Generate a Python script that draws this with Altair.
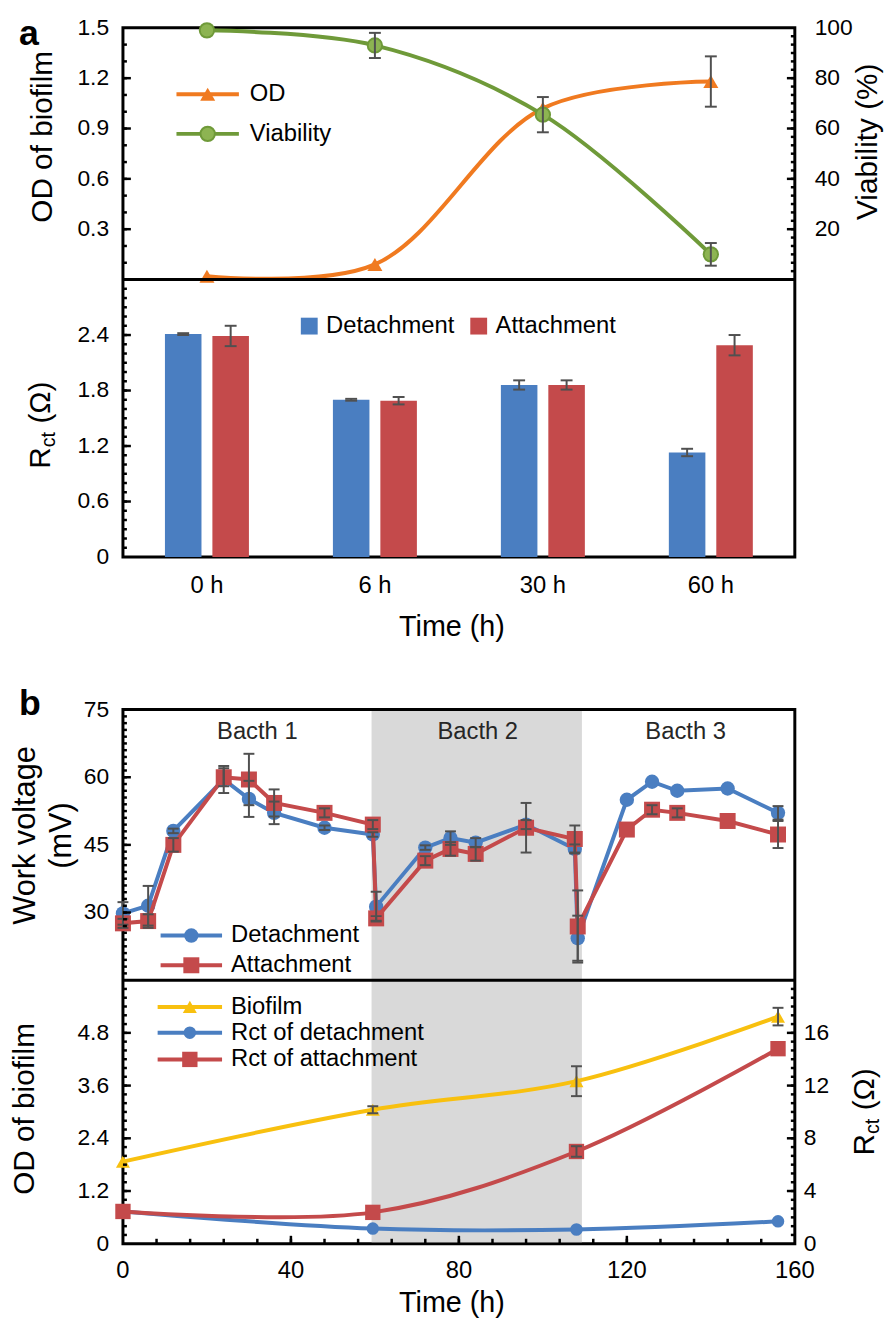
import altair as alt
import pandas as pd

# ---------------- panel a data ----------------
STAGES = ["0 h", "6 h", "30 h", "60 h"]
OD_A = [0.02, 0.09, 1.02, 1.18]
OD_A_ERR = [0.0, 0.0, 0.0, 0.15]
VIAB = [99.0, 93.0, 65.5, 10.0]
VIAB_ERR = [0.0, 5.0, 7.0, 4.5]
A_LINES = ["OD", "Viability"]
OD_A_TICKS = [0.3, 0.6, 0.9, 1.2, 1.5]
OD_A_LABELS = ["0.3", "0.6", "0.9", "1.2", "1.5"]
VIAB_TICKS = [20, 40, 60, 80, 100]
VIAB_LABELS = ["20", "40", "60", "80", "100"]

A_SERIES = ["Detachment", "Attachment"]
RCT_DET = [2.41, 1.70, 1.86, 1.13]
RCT_DET_ERR = [0.01, 0.01, 0.05, 0.04]
RCT_ATT = [2.39, 1.69, 1.86, 2.29]
RCT_ATT_ERR = [0.11, 0.04, 0.05, 0.11]
RCT_A_TICKS = [0, 0.6, 1.2, 1.8, 2.4]
RCT_A_LABELS = ["0", "0.6", "1.2", "1.8", "2.4"]

# ---------------- panel b data ----------------
V_SERIES = ["Detachment", "Attachment"]
T_V = [0, 6, 12, 24, 30, 36, 48, 59.5, 60.3, 72, 78, 84, 96, 107.6, 108.3, 120, 126, 132, 144, 156]
V_DET = [29.8, 31.5, 48.1, 59.5, 55.2, 52.1, 48.8, 47.3, 31.3, 44.4, 46.5, 45.5, 49.5, 44.1, 24.3,
         55.0, 59.0, 57.0, 57.5, 52.1]
V_DET_ERR = [2.5, 4.4, 0.5, 3.0, 4.0, 2.5, 0.5, 0.5, 3.3, 0.5, 1.5, 1.0, 1.0, 1.0, 5.0,
             0.0, 0.0, 0.0, 0.0, 1.5]
V_ATT = [27.6, 28.1, 45.0, 60.0, 59.5, 54.3, 52.1, 49.5, 28.7, 41.5, 44.1, 43.0, 48.8, 46.3, 26.9,
         48.4, 52.8, 52.1, 50.3, 47.3]
V_ATT_ERR = [1.0, 1.5, 1.5, 2.0, 5.7, 3.0, 1.0, 1.0, 0.5, 1.0, 1.5, 1.5, 5.5, 3.0, 8.0,
             0.0, 1.0, 1.0, 0.0, 3.0]
V_TICKS = [30, 45, 60, 75]
V_LABELS = ["30", "45", "60", "75"]
BATCHES = ["Bacth 1", "Bacth 2", "Bacth 3"]
BATCH_T = [32, 84.5, 134]
BATCH2_SPAN = [59.2, 109.3]

B_LEGEND = ["Biofilm", "Rct of detachment", "Rct of attachment"]
T_B = [0, 59.5, 108, 156]
OD_B = [1.87, 3.05, 3.70, 5.17]
OD_B_ERR = [0.0, 0.08, 0.34, 0.2]
RCT_DET_B = [2.45, 1.15, 1.08, 1.70]
RCT_ATT_B = [2.45, 2.38, 7.0, 14.8]
RCT_ATT_B_ERR = [0.0, 0.0, 0.4, 0.0]
OD_B_TICKS = [0, 1.2, 2.4, 3.6, 4.8]
OD_B_LABELS = ["0", "1.2", "2.4", "3.6", "4.8"]
RCT_B_TICKS = [0, 4, 8, 12, 16]
RCT_B_LABELS = ["0", "4", "8", "12", "16"]
TIME_TICKS = [0, 40, 80, 120, 160]
TIME_LABELS = ["0", "40", "80", "120", "160"]

# ---------------- style ----------------
FONT = "Liberation Sans"
W = 678
H_A1, H_A = 254, 534          # top sub-panel height, whole panel a height
H_B1, H_B = 273, 539          # top sub-panel height, whole panel b height
OVERHANG = 114
ORANGE = "#F07A20"
GREEN = "#6F9A39"
GREEN_FILL = "#8DB452"
BLUE = "#4A7EC1"
RED = "#C44A4B"
YELLOW = "#F8C00F"
ERR = "#505050"
SHADE = "#D9D9D9"


def one(s):
    return alt.Chart(pd.DataFrame({"s": [s]}))


def txt(s, x, y, size, angle=0, align="center", baseline="middle", weight="normal", color="black"):
    mk = dict(align=align, baseline=baseline, font=FONT, fontSize=size, fontWeight=weight, color=color)
    if angle:
        mk["angle"] = angle
    return one(s).mark_text(**mk).encode(text="s:N", x=alt.value(x), y=alt.value(y))


def spacer(x, y):
    return one("").mark_rule(opacity=0).encode(
        x=alt.value(x), x2=alt.value(x + 1), y=alt.value(y), y2=alt.value(y + 1))


def divider(y):
    return one("").mark_rule(color="black", strokeWidth=3).encode(
        x=alt.value(0), x2=alt.value(W), y=alt.value(y))


def rct_title(xb, y0):
    parts = [("R", 30, 0.0, 0.0), ("ct", 20, 21.7, 5.0), ("(\u03a9)", 30, 45.6, 0.0)]
    return [one(s).mark_text(angle=270, align="left", baseline="alphabetic", font=FONT,
                              fontSize=fs, color="black").encode(
        text="s:N", x=alt.value(xb + sub), y=alt.value(y0 - adv)) for s, fs, adv, sub in parts]


def xq(f, sc):
    return alt.X(f"{f}:Q", scale=sc, axis=None)


def yq(f, sc):
    return alt.Y(f"{f}:Q", scale=sc, axis=None)


def yticks(vals, sc, side, length):
    d = pd.DataFrame({"v": vals})
    xs = dict(x=alt.value(0), x2=alt.value(length)) if side == "left" else \
        dict(x=alt.value(W), x2=alt.value(W - length))
    return alt.Chart(d).mark_rule(color="black", strokeWidth=2.5).encode(y=yq("v", sc), **xs)


def xticks(vals, sc, h, length):
    d = pd.DataFrame({"v": vals})
    return alt.Chart(d).mark_rule(color="black", strokeWidth=2.5).encode(
        x=xq("v", sc), y=alt.value(h), y2=alt.value(h - length))


def ylabels(vals, labels, sc, side, pad, size=23):
    d = pd.DataFrame({"v": vals, "lab": labels})
    if side == "left":
        mk, xv = dict(align="right"), alt.value(-pad)
    else:
        mk, xv = dict(align="left"), alt.value(W + pad)
    return alt.Chart(d).mark_text(baseline="middle", font=FONT, fontSize=size, color="black", **mk).encode(
        y=yq("v", sc), x=xv, text="lab:N")


def xlabels(vals, labels, sc, y, size=24):
    d = pd.DataFrame({"v": vals, "lab": labels})
    return alt.Chart(d).mark_text(baseline="top", align="center", font=FONT, fontSize=size,
                                  color="black").encode(x=xq("v", sc), y=alt.value(y), text="lab:N")


def errbars(base, x, xsc, lo, hi, ysc, errf, cap=12):
    b = base.transform_filter(f"datum.{errf} > 0")
    rule = b.mark_rule(color=ERR, strokeWidth=2).encode(x=xq(x, xsc), y=yq(lo, ysc), y2=f"{hi}:Q")
    caps = [b.mark_tick(orient="horizontal", size=cap, thickness=2, color=ERR, opacity=1).encode(
        x=xq(x, xsc), y=yq(f, ysc)) for f in (lo, hi)]
    return [rule] + caps


def legend_line(label, color, shape, y, x0, x1, tx, size, fill=None):
    pk = dict(shape=shape, filled=True, size=size, opacity=1, color=color)
    if fill:
        pk["fill"] = fill
        pk["stroke"] = color
        pk["strokeWidth"] = 2
    return [
        one(label).mark_rule(color=color, strokeWidth=4).encode(
            x=alt.value(x0), x2=alt.value(x1), y=alt.value(y)),
        one(label).mark_point(**pk).encode(x=alt.value((x0 + x1) / 2), y=alt.value(y)),
        one(label).mark_text(align="left", baseline="middle", font=FONT, fontSize=24,
                             color="black").encode(text="s:N", x=alt.value(tx), y=alt.value(y)),
    ]


# ================= panel a =================
dfA = pd.DataFrame({"i": list(range(len(STAGES))), "od": OD_A, "od_err": OD_A_ERR,
                    "v": VIAB, "v_err": VIAB_ERR})
dfA["od_lo"] = dfA["od"] - dfA["od_err"]
dfA["od_hi"] = dfA["od"] + dfA["od_err"]
dfA["v_lo"] = dfA["v"] - dfA["v_err"]
dfA["v_hi"] = dfA["v"] + dfA["v_err"]
bA = alt.Chart(dfA)
xA = alt.Scale(domain=[-0.5, len(STAGES) - 0.5])
od_sc = alt.Scale(domain=[0, 1.5], range=[H_A1, 0])
vi_sc = alt.Scale(domain=[0, 100], range=[H_A1, 0])
r_sc = alt.Scale(domain=[0, 3], range=[H_A, H_A1])

od_group = alt.layer(
    bA.mark_line(color=ORANGE, strokeWidth=4, interpolate="catmull-rom").encode(
        x=xq("i", xA), y=yq("od", od_sc)),
    bA.mark_point(shape="triangle-up", filled=True, size=230, color=ORANGE, opacity=1).encode(
        x=xq("i", xA), y=yq("od", od_sc)),
    *errbars(bA, "i", xA, "od_lo", "od_hi", od_sc, "od_err"),
    yticks([0.3, 0.6, 0.9, 1.2], od_sc, "left", 8),
    yticks([round(k * 0.1, 3) for k in range(1, 15)], od_sc, "left", 4),
    ylabels(OD_A_TICKS, OD_A_LABELS, od_sc, "left", 14),
)
vi_group = alt.layer(
    bA.mark_line(color=GREEN, strokeWidth=4, interpolate="catmull-rom").encode(
        x=xq("i", xA), y=yq("v", vi_sc)),
    bA.mark_point(shape="circle", filled=True, size=210, fill=GREEN_FILL, stroke=GREEN,
                  strokeWidth=2, opacity=1).encode(x=xq("i", xA), y=yq("v", vi_sc)),
    *errbars(bA, "i", xA, "v_lo", "v_hi", vi_sc, "v_err"),
    yticks([20, 40, 60, 80], vi_sc, "right", 8),
    yticks([round(k * 20 / 6, 3) for k in range(1, 30)], vi_sc, "right", 4),
    ylabels(VIAB_TICKS, VIAB_LABELS, vi_sc, "right", 20),
)

dfR = pd.DataFrame({
    "stage": STAGES * 2,
    "series": [A_SERIES[0]] * len(STAGES) + [A_SERIES[1]] * len(STAGES),
    "val": RCT_DET + RCT_ATT,
    "err": RCT_DET_ERR + RCT_ATT_ERR,
})
dfR["lo"] = dfR["val"] - dfR["err"]
dfR["hi"] = dfR["val"] + dfR["err"]
bR = alt.Chart(dfR)
band = alt.Scale(domain=STAGES, paddingInner=0.5, paddingOuter=0.25)
xs = alt.X("stage:N", sort=STAGES, scale=band, axis=None)
xo = alt.XOffset("series:N", sort=A_SERIES, scale=alt.Scale(paddingInner=0.23, paddingOuter=0))

bar_group = alt.layer(
    bR.mark_bar(opacity=1).encode(
        x=xs, xOffset=xo, y=yq("val", r_sc),
        color=alt.Color("series:N", scale=alt.Scale(domain=A_SERIES, range=[BLUE, RED]), legend=None)),
    bR.mark_rule(color=ERR, strokeWidth=2).encode(x=xs, xOffset=xo, y=yq("lo", r_sc), y2="hi:Q"),
    bR.mark_tick(size=12, thickness=2, color=ERR, opacity=1).encode(x=xs, xOffset=xo, y=yq("lo", r_sc)),
    bR.mark_tick(size=12, thickness=2, color=ERR, opacity=1).encode(x=xs, xOffset=xo, y=yq("hi", r_sc)),
    yticks([0.6, 1.2, 1.8, 2.4], r_sc, "left", 8),
    yticks([round(k * 0.1, 3) for k in range(1, 30)], r_sc, "left", 4),
    ylabels(RCT_A_TICKS, RCT_A_LABELS, r_sc, "left", 14),
    alt.Chart(pd.DataFrame({"stage": STAGES})).mark_text(
        baseline="top", font=FONT, fontSize=24, color="black").encode(
        x=xs, y=alt.value(H_A + 17), text="stage:N"),
)

bar_legend = []
for name, color, sx, tx in [(A_SERIES[0], BLUE, 188, 205), (A_SERIES[1], RED, 359, 376)]:
    bar_legend.append(one(name).mark_point(shape="square", filled=True, size=289, color=color,
                                           opacity=1).encode(x=alt.value(sx), y=alt.value(H_A1 + 47)))
    bar_legend.append(txt(name, tx, H_A1 + 47, 24, align="left"))

panel_a = alt.layer(
    od_group, vi_group, bar_group,
    divider(H_A1),
    *legend_line(A_LINES[0], ORANGE, "triangle-up", 67, 54, 117, 128, 230),
    *legend_line(A_LINES[1], GREEN, "circle", 107, 54, 117, 128, 210, fill=GREEN_FILL),
    *bar_legend,
    txt("a", -105, -11, 36, align="left", baseline="top", weight="bold"),
    txt("OD of biofilm", -81, 110, 30, angle=270),
    txt("Viability (%)", 752, 115, 30, angle=270),
    *rct_title(-74, H_A1 + 191),
    txt("Time (h)", 332, H_A1 + 360, 29, baseline="alphabetic"),
    spacer(-OVERHANG, 0),
).resolve_scale(x="independent", y="independent").properties(width=W, height=H_A)

# ================= panel b =================
dfV = pd.DataFrame({"t": T_V, "det": V_DET, "det_err": V_DET_ERR, "att": V_ATT, "att_err": V_ATT_ERR})
for s in ("det", "att"):
    dfV[s + "_lo"] = dfV[s] - dfV[s + "_err"]
    dfV[s + "_hi"] = dfV[s] + dfV[s + "_err"]
bV = alt.Chart(dfV)
xT = alt.Scale(domain=[0, 160])
v_sc = alt.Scale(domain=[15, 75], range=[H_B1, 0])
odb_sc = alt.Scale(domain=[0, 6], range=[H_B, H_B1])
rb_sc = alt.Scale(domain=[0, 20], range=[H_B, H_B1])

v_group = alt.layer(
    alt.Chart(pd.DataFrame({"s": [BATCH2_SPAN[0]], "e": [BATCH2_SPAN[1]]})).mark_rect(color=SHADE).encode(
        x=xq("s", xT), x2="e:Q", y=alt.value(1.5), y2=alt.value(H_B - 1.5)),
    alt.Chart(pd.DataFrame({"t": BATCH_T, "s": BATCHES})).mark_text(
        font=FONT, fontSize=24, color="#262626").encode(x=xq("t", xT), y=alt.value(23), text="s:N"),
    bV.mark_line(color=BLUE, strokeWidth=4).encode(x=xq("t", xT), y=yq("det", v_sc)),
    bV.mark_point(shape="circle", filled=True, size=210, color=BLUE, opacity=1).encode(
        x=xq("t", xT), y=yq("det", v_sc)),
    bV.mark_line(color=RED, strokeWidth=4).encode(x=xq("t", xT), y=yq("att", v_sc)),
    bV.mark_point(shape="square", filled=True, size=260, color=RED, opacity=1).encode(
        x=xq("t", xT), y=yq("att", v_sc)),
    *errbars(bV, "t", xT, "det_lo", "det_hi", v_sc, "det_err", cap=11),
    *errbars(bV, "t", xT, "att_lo", "att_hi", v_sc, "att_err", cap=11),
    yticks([30, 45, 60], v_sc, "left", 8),
    yticks([round(15 + k * 1.5, 3) for k in range(1, 40)], v_sc, "left", 4),
    ylabels(V_TICKS, V_LABELS, v_sc, "left", 14),
)

dfB = pd.DataFrame({"t": T_B, "od": OD_B, "od_err": OD_B_ERR, "rd": RCT_DET_B,
                    "ra": RCT_ATT_B, "ra_err": RCT_ATT_B_ERR})
dfB["od_lo"] = dfB["od"] - dfB["od_err"]
dfB["od_hi"] = dfB["od"] + dfB["od_err"]
dfB["ra_lo"] = dfB["ra"] - dfB["ra_err"]
dfB["ra_hi"] = dfB["ra"] + dfB["ra_err"]
bB = alt.Chart(dfB)

odb_group = alt.layer(
    bB.mark_line(color=YELLOW, strokeWidth=4, interpolate="catmull-rom").encode(
        x=xq("t", xT), y=yq("od", odb_sc)),
    bB.mark_point(shape="triangle-up", filled=True, size=200, color=YELLOW, opacity=1).encode(
        x=xq("t", xT), y=yq("od", odb_sc)),
    *errbars(bB, "t", xT, "od_lo", "od_hi", odb_sc, "od_err", cap=11),
    yticks([1.2, 2.4, 3.6, 4.8], odb_sc, "left", 8),
    yticks([round(k * 0.2, 3) for k in range(1, 30)], odb_sc, "left", 4),
    ylabels(OD_B_TICKS, OD_B_LABELS, odb_sc, "left", 14),
    xticks([40, 80, 120], xT, H_B, 8),
    xticks([8 * k for k in range(1, 20)], xT, H_B, 5),
    xlabels(TIME_TICKS, TIME_LABELS, xT, H_B + 16),
)
rb_group = alt.layer(
    bB.mark_line(color=BLUE, strokeWidth=4, interpolate="catmull-rom").encode(
        x=xq("t", xT), y=yq("rd", rb_sc)),
    bB.mark_point(shape="circle", filled=True, size=160, color=BLUE, opacity=1).encode(
        x=xq("t", xT), y=yq("rd", rb_sc)),
    bB.mark_line(color=RED, strokeWidth=4, interpolate="catmull-rom").encode(
        x=xq("t", xT), y=yq("ra", rb_sc)),
    bB.mark_point(shape="square", filled=True, size=240, color=RED, opacity=1).encode(
        x=xq("t", xT), y=yq("ra", rb_sc)),
    *errbars(bB, "t", xT, "ra_lo", "ra_hi", rb_sc, "ra_err", cap=11),
    yticks([4, 8, 12, 16], rb_sc, "right", 8),
    yticks([round(k * 2 / 3, 3) for k in range(1, 30)], rb_sc, "right", 4),
    ylabels(RCT_B_TICKS, RCT_B_LABELS, rb_sc, "right", 9),
)

panel_b = alt.layer(
    v_group, odb_group, rb_group,
    divider(H_B1),
    *legend_line(V_SERIES[0], BLUE, "circle", 228, 38, 100, 109, 210),
    *legend_line(V_SERIES[1], RED, "square", 258, 38, 100, 109, 260),
    *legend_line(B_LEGEND[0], YELLOW, "triangle-up", H_B1 + 27, 35, 100, 109, 200),
    *legend_line(B_LEGEND[1], BLUE, "circle", H_B1 + 53, 35, 100, 109, 160),
    *legend_line(B_LEGEND[2], RED, "square", H_B1 + 80, 35, 100, 109, 240),
    txt("b", -105, 5, 36, align="left", baseline="alphabetic", weight="bold"),
    txt("Work voltage", -98, 127, 31, angle=270),
    txt("(mV)", -61, 127, 31, angle=270),
    txt("OD of biofilm", -99, H_B1 + 130, 30, angle=270),
    *rct_title(758, H_B1 + 177),
    txt("Time (h)", 332, 608, 29, baseline="alphabetic"),
    spacer(-OVERHANG, 0),
    spacer(0, -64),
).resolve_scale(y="independent").properties(width=W, height=H_B)

chart = alt.vconcat(panel_a, panel_b, spacing=0).properties(
    padding={"left": 0, "top": 0, "right": 0, "bottom": 0}
).configure_view(stroke="black", strokeWidth=3)

chart.save("out.html", embed_options={"renderer": "svg", "actions": False})
